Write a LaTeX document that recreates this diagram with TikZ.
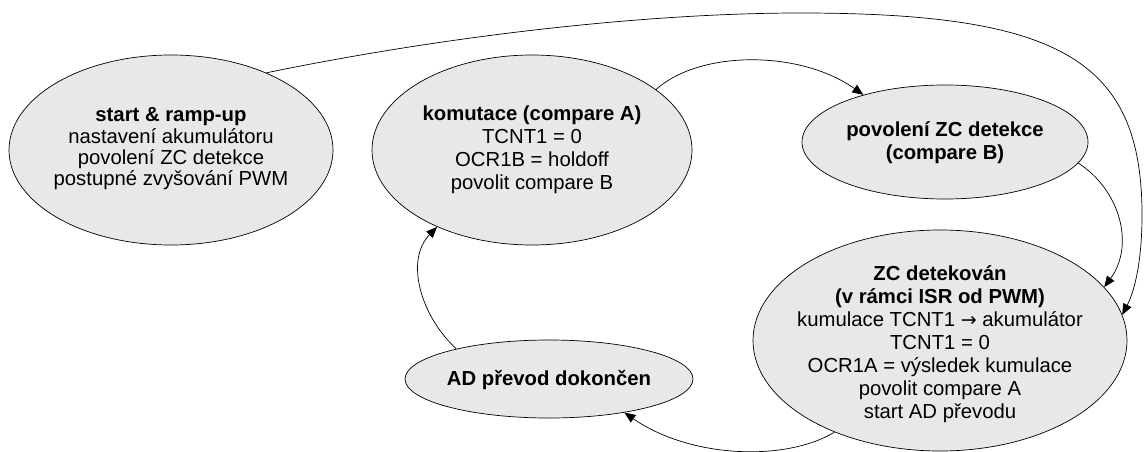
\documentclass[tikz,border=0pt]{standalone}
\usepackage{fontspec}
\setmainfont{Liberation Sans}
\newfontfamily\arrowfont{DejaVu Sans}
\usetikzlibrary{shapes.geometric,arrows.meta}
\begin{document}
\begin{tikzpicture}[x=1pt,y=-1pt,
  state/.style={ellipse,draw=black,line width=0.7pt,fill=stategray,inner sep=0pt},
  txt/.style={align=center,inner sep=0pt,font=\fontsize{20.3}{23}\selectfont},
  arr/.style={-{Triangle[length=11pt,width=9pt]},line width=0.7pt}]
\definecolor{stategray}{HTML}{E8E8E8}
\useasboundingbox (0,0) rectangle (1145,452);
% states
\node[state,minimum width=324pt,minimum height=190pt] (start) at (171,150) {};
\node[txt,font=\fontsize{20.3}{21.3}\selectfont] (startt) at (171,149) {\textbf{start \& ramp-up}\\nastavení akumulátoru\\povolení ZC detekce\\postupné zvyšování PWM};
\node[state,minimum width=320pt,minimum height=190pt] (kom) at (532,150) {};
\node[txt] (komt) at (532,150) {\textbf{komutace (compare A)}\\TCNT1 = 0\\OCR1B = holdoff\\povolit compare B};
\node[state,minimum width=286pt,minimum height=114pt] (pov) at (945,142) {};
\node[txt] (povt) at (945,143) {\textbf{povolení ZC detekce}\\\textbf{(compare B)}};
\node[state,minimum width=374pt,minimum height=221pt] (zc) at (940,340.5) {};
\node[txt] (zct) at (940,344) {\textbf{ZC detekován}\\\textbf{(v rámci ISR od PWM)}\\kumulace TCNT1 {\arrowfont\fontsize{19}{23}\selectfont →} akumulátor\\TCNT1 = 0\\OCR1A = výsledek kumulace\\povolit compare A\\start AD převodu};
\node[state,minimum width=288pt,minimum height=78pt] (ad) at (549,379) {};
\node[txt] (adt) at (549,380) {\textbf{AD převod dokončen}};
% transitions
\draw[arr] (kom.26) .. controls (700,50) and (800,50) .. (pov.150);
\draw[arr] (pov.-9) .. controls (1120,190) and (1135,245) .. (zc.18);
\draw[arr] (start.39) .. controls (450,35) and (650,13) .. (800,13)
  .. controls (1060,13) and (1142,60) .. (1142,215)
  .. controls (1142,260) and (1135,290) .. (zc.8);
\draw[arr] (zc.221) .. controls (785,462) and (690,458) .. (ad.-24);
\draw[arr] (ad.162) .. controls (420,315) and (405,260) .. (kom.219);
\end{tikzpicture}
\end{document}
